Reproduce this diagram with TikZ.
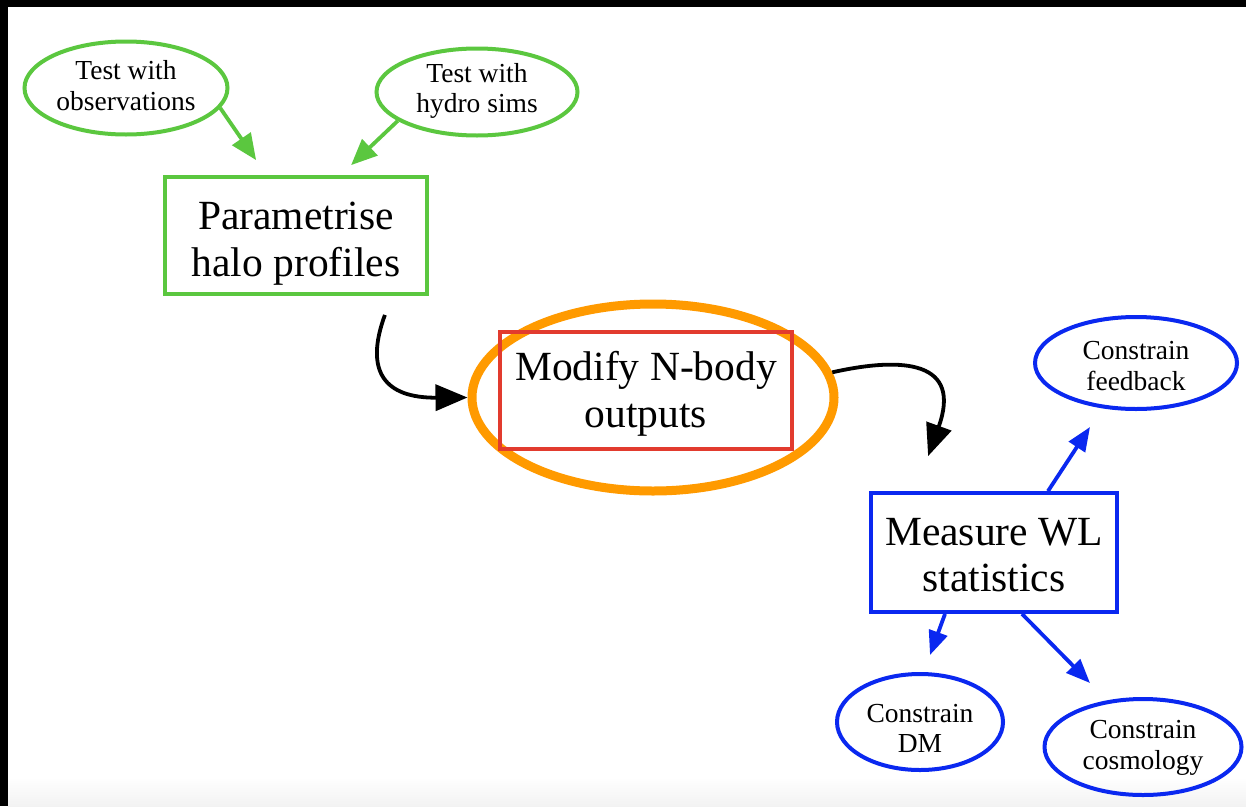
\documentclass[tikz,border=0pt]{standalone}
\usepackage{fontspec}
\setmainfont{Liberation Serif}
\usetikzlibrary{shapes.geometric,arrows.meta,calc}
\definecolor{grn}{HTML}{5BC73F}
\definecolor{blu}{HTML}{0A28F0}
\definecolor{rd}{HTML}{E23B2E}
\definecolor{orng}{HTML}{FF9A00}

\begin{document}
\begin{tikzpicture}[x=1pt,y=-1pt,
  small/.style={font=\fontsize{27.5}{30.5}\selectfont, align=center, text=black, inner sep=0pt},
  big/.style={font=\fontsize{41.5}{46.5}\selectfont, align=center, text=black, inner sep=0pt},
  oval/.style={ellipse, draw, line width=4pt, inner sep=0pt},
  stepbox/.style={rectangle, draw, line width=3.8pt, inner sep=0pt},
  garrow/.style={draw=grn, line width=3.8pt, -{Triangle[length=26pt,width=22pt]}},
  barrow/.style={draw=blu, line width=3.8pt, -{Triangle[length=24pt,width=19pt]}},
  karrow/.style={draw=black, line width=3.8pt, -{Triangle[length=32pt,width=26pt]}}]

% canvas, frame strips and soft bottom band
\useasboundingbox (0,0) rectangle (1246,806);
\fill[white] (0,0) rectangle (1246,806);
\shade[top color=white, bottom color=black!5] (8,777) rectangle (1246,806);
\fill[black] (0,0) rectangle (1246,7);
\fill[black] (0,0) rectangle (8,806);

% inputs to the halo model
\node[oval, draw=grn, minimum width=203, minimum height=93] (obs) at (126,88) {};
\node[small] (obs-t) at ($(obs)+(0,-2.5)$) {Test with\\observations};
\node[oval, draw=grn, minimum width=201, minimum height=87] (hydro) at (477,92) {};
\node[small] (hydro-t) at ($(hydro)+(0,-1)$) {Test with\\hydro sims};
\node[stepbox, draw=grn, minimum width=262, minimum height=117] (param) at (296,235.5) {};
\node[big] (param-t) at ($(param)+(0,8)$) {Parametrise\\halo profiles};

% central step
\node[ellipse, draw=orng, line width=9pt, minimum width=362, minimum height=187] (ring) at (653,397.5) {};
\node[stepbox, draw=rd, line width=3.3pt, minimum width=292, minimum height=117] (modify) at (646,390.5) {};
\node[big] (modify-t) at ($(modify)+(0,3.5)$) {Modify N-body\\outputs};

% weak-lensing measurement and its outputs
\node[stepbox, draw=blu, minimum width=246, minimum height=119] (meas) at (994,552.5) {};
\node[big] (meas-t) at ($(meas)+(0,2.5)$) {Measure WL\\statistics};
\node[oval, draw=blu, minimum width=202, minimum height=92] (feed) at (1136,363) {};
\node[small] (feed-t) at ($(feed)+(0,3)$) {Constrain\\feedback};
\node[oval, draw=blu, minimum width=166, minimum height=96] (dm) at (920,722) {};
\node[small] (dm-t) at ($(dm)+(0,6.5)$) {Constrain\\DM};
\node[oval, draw=blu, minimum width=197, minimum height=96] (cosmo) at (1143,747) {};
\node[small] (cosmo-t) at ($(cosmo)+(0,1)$) {Constrain\\cosmology};

% connectors
\draw[garrow] (obs.-12) -- ($(param.north west)+(93,-15)$);
\draw[garrow] (hydro.200) -- ($(param.north west)+(188,-10)$);

\draw[karrow] ($(param.south east)+(-44,19)$) .. controls (364,372) and (385,398) .. (ring.west);
\draw[karrow] (ring.8) .. controls (905,356) and (962,362) .. ($(meas.north west)+(59,-35)$);

\draw[barrow] ($(meas.north)+(54,0)$) -- ($(feed.south)+(-46,16)$);
\draw[barrow] ($(meas.south)+(-49,0)$) -- ($(dm.north)+(10,-17)$);
\draw[barrow] ($(meas.south)+(28,0)$) -- ($(cosmo.north)+(-53,-14)$);
\end{tikzpicture}
\end{document}
